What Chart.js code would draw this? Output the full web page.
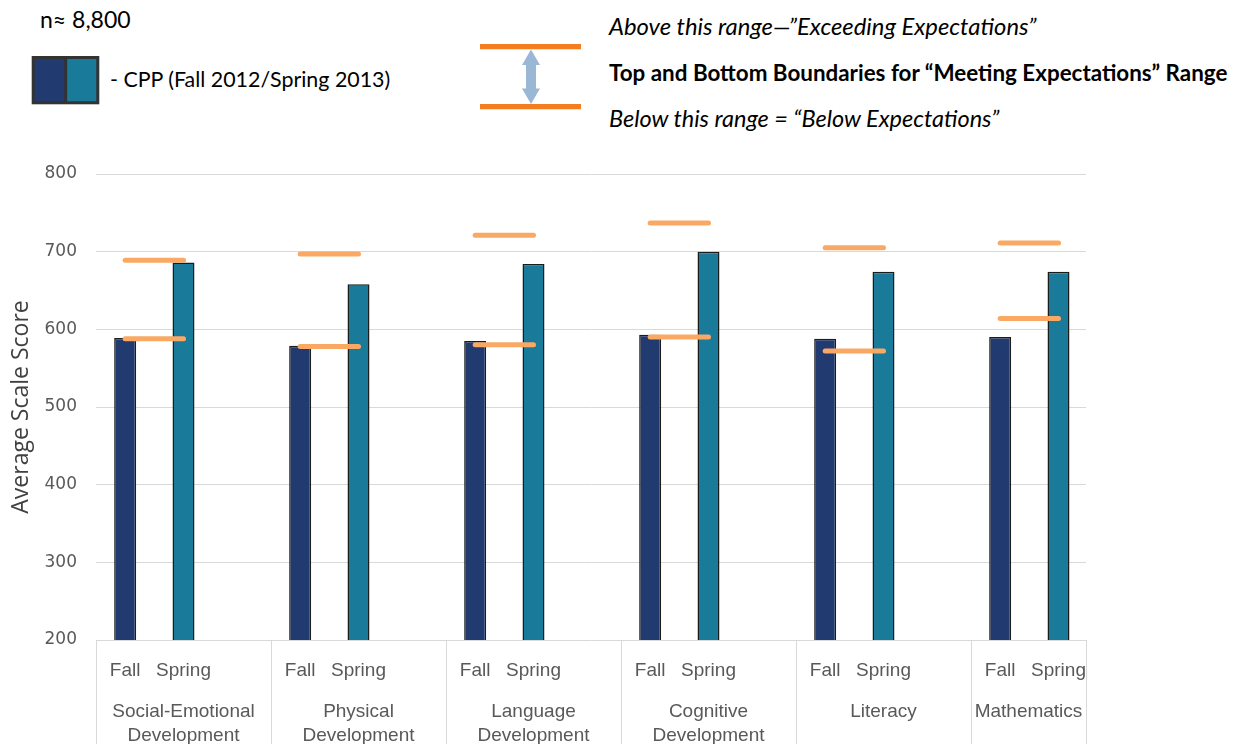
<!DOCTYPE html>
<html>
<head>
<meta charset="utf-8">
<title>CPP Average Scale Scores</title>
<script src="https://cdn.jsdelivr.net/npm/chart.js@4.4.1/dist/chart.umd.min.js"></script>
<style>
    body { margin: 0; background: #fff; }
    #page { position: relative; width: 1235px; height: 744px; overflow: hidden; }
    #key { position: absolute; left: 0; top: 0; }
    #chartBox { position: absolute; left: 0; top: 150px; width: 1235px; height: 594px; }
</style>
</head>
<body>
<div id="page">
    <svg id="key" width="1235" height="150" font-family="Lato, sans-serif" fill="#000">
        <text x="40" y="28.3" font-size="23">n≈ 8,800</text>
        <!-- Fall / Spring swatch -->
        <rect x="33.2" y="57.5" width="32.5" height="45.3" fill="#213a70"/>
        <rect x="65.7" y="57.5" width="32.1" height="45.3" fill="#1a7a9a"/>
        <rect x="33.2" y="57.5" width="64.6" height="45.3" fill="none" stroke="#333" stroke-width="3"/>
        <line x1="65.7" y1="57.5" x2="65.7" y2="102.8" stroke="#333" stroke-width="3"/>
        <text x="110" y="87.3" font-size="21.4">- CPP (Fall 2012/Spring 2013)</text>
        <!-- boundary key -->
        <line x1="480" y1="46.7" x2="581" y2="46.7" stroke="#f47d20" stroke-width="5.3"/>
        <line x1="480" y1="106.7" x2="581" y2="106.7" stroke="#f47d20" stroke-width="5.3"/>
        <polygon fill="#9ab8d5" points="531,49.5 540,65 536,65 536,88.5 540,88.5 531,104 522,88.5 526,88.5 526,65 522,65"/>
        <text x="609" y="35" font-size="23.8" font-style="italic">Above this range—”Exceeding Expectations”</text>
        <text x="609" y="81" font-size="22.4" font-weight="bold">Top and Bottom Boundaries for “Meeting Expectations” Range</text>
        <text x="609" y="126.7" font-size="23.5" font-style="italic">Below this range = “Below Expectations”</text>
    </svg>
    <div id="chartBox"><canvas id="chart"></canvas></div>
</div>
<script>
// Average scale scores per domain, Fall 2012 / Spring 2013

// Data
const domains = [
    ['Social-Emotional', 'Development'],
    ['Physical', 'Development'],
    ['Language', 'Development'],
    ['Cognitive', 'Development'],
    ['Literacy'],
    ['Mathematics']
];
const terms = ['Fall', 'Spring'];
const fallScores = [589, 579, 585, 593, 588, 590];
const springScores = [686, 658, 684, 700, 674, 674];
// top and bottom of the "Meeting Expectations" range
const rangeTop = [689, 697, 721, 737, 705, 711];
const rangeBottom = [588, 578, 580, 590, 572, 614];
const scoreMin = 200;
const scoreMax = 800;
const scoreStep = 100;

// Styling
const FALL_COLOR = '#213a70';
const SPRING_COLOR = '#1a7a9a';
const BAR_EDGE = '#1c1c1c';
const RANGE_COLOR = '#f9a964';
const GRID_COLOR = '#d9d9d9';
const LABEL_COLOR = '#595959';
const LAST_GROUP_SHOWN = 0.657; // plot is cut off part-way through the last domain

// x where the plot is cut off
function cutEdge(chart) {
    const x = chart.scales.x;
    const w = x.width / domains.length;
    return x.left + w * (domains.length - 1 + LAST_GROUP_SHOWN);
}

// Range markers, category labels and the cut-off
const domainAxis = {
    id: 'domainAxis',
    beforeDraw(chart) {
        const ctx = chart.ctx;
        ctx.save();
        ctx.beginPath();
        ctx.rect(0, 0, cutEdge(chart), chart.height);
        ctx.clip();
    },
    afterDatasetsDraw(chart) {
        const ctx = chart.ctx;
        const y = chart.scales.y;
        const fall = chart.getDatasetMeta(0).data;
        const spring = chart.getDatasetMeta(1).data;
        ctx.save();
        ctx.strokeStyle = RANGE_COLOR;
        ctx.lineWidth = 5;
        ctx.lineCap = 'round';
        domains.forEach((d, i) => {
            [rangeTop[i], rangeBottom[i]].forEach(v => {
                const py = y.getPixelForValue(v);
                ctx.beginPath();
                ctx.moveTo(fall[i].x, py);
                ctx.lineTo(spring[i].x, py);
                ctx.stroke();
            });
        });
        ctx.restore();
    },
    afterDraw(chart) {
        const ctx = chart.ctx;
        ctx.restore();

        const x = chart.scales.x;
        const w = x.width / domains.length;
        const edge = cutEdge(chart);
        const base = chart.chartArea.bottom;

        ctx.save();
        ctx.font = '19px "Liberation Sans"';
        ctx.fillStyle = LABEL_COLOR;
        ctx.textAlign = 'center';
        ctx.textBaseline = 'alphabetic';
        domains.forEach((lines, i) => {
            terms.forEach((t, d) => {
                ctx.fillText(t, chart.getDatasetMeta(d).data[i].x, base + 36);
            });
            const left = x.left + w * i;
            const right = Math.min(left + w, edge);
            lines.forEach((line, k) => {
                ctx.fillText(line, (left + right) / 2, base + 77 + k * 24);
            });
        });

        // group separators under the axis
        ctx.strokeStyle = GRID_COLOR;
        ctx.lineWidth = 1;
        for (let i = 0; i <= domains.length; i++) {
            const px = Math.round(i < domains.length ? x.left + w * i : edge) + 0.5;
            ctx.beginPath();
            ctx.moveTo(px, base);
            ctx.lineTo(px, chart.height);
            ctx.stroke();
        }
        ctx.restore();
    }
};

// Setup chart
function setupChart() {
    const ctx = document.getElementById('chart');
    new Chart(ctx, {
        type: 'bar',
        data: {
            labels: domains.map(d => d.join(' ')),
            datasets: [
                {
                    label: terms[0],
                    data: fallScores,
                    backgroundColor: FALL_COLOR,
                    borderColor: BAR_EDGE,
                    borderWidth: 1.5
                },
                {
                    label: terms[1],
                    data: springScores,
                    backgroundColor: SPRING_COLOR,
                    borderColor: BAR_EDGE,
                    borderWidth: 1.5
                },
                {
                    // third slot in each domain stays empty
                    label: '',
                    data: domains.map(() => null)
                }
            ]
        },
        options: {
            responsive: true,
            maintainAspectRatio: false,
            animation: false,
            devicePixelRatio: 1,
            categoryPercentage: 1,
            barPercentage: 0.377,
            layout: {
                padding: { top: 24, right: 89, left: 0, bottom: 0 }
            },
            plugins: {
                legend: { display: false },
                tooltip: { enabled: false }
            },
            scales: {
                x: {
                    ticks: { display: false },
                    grid: { display: false },
                    border: { display: false },
                    afterFit: scale => { scale.height = 104; }
                },
                y: {
                    min: scoreMin,
                    max: scoreMax,
                    ticks: {
                        stepSize: scoreStep,
                        color: LABEL_COLOR,
                        padding: 0,
                        font: { family: 'DejaVu Sans', size: 17 }
                    },
                    grid: {
                        color: GRID_COLOR,
                        lineWidth: 1,
                        drawTicks: true,
                        tickLength: 19,
                        tickColor: 'rgba(0,0,0,0)'
                    },
                    border: { display: false },
                    title: {
                        display: true,
                        text: 'Average Scale Score',
                        color: '#404040',
                        padding: { top: 8, bottom: 0 },
                        font: { family: 'Open Sans', size: 23 }
                    },
                    afterFit: scale => { scale.width = 96; }
                }
            }
        },
        plugins: [domainAxis]
    });
}

setupChart();
</script>
</body>
</html>
